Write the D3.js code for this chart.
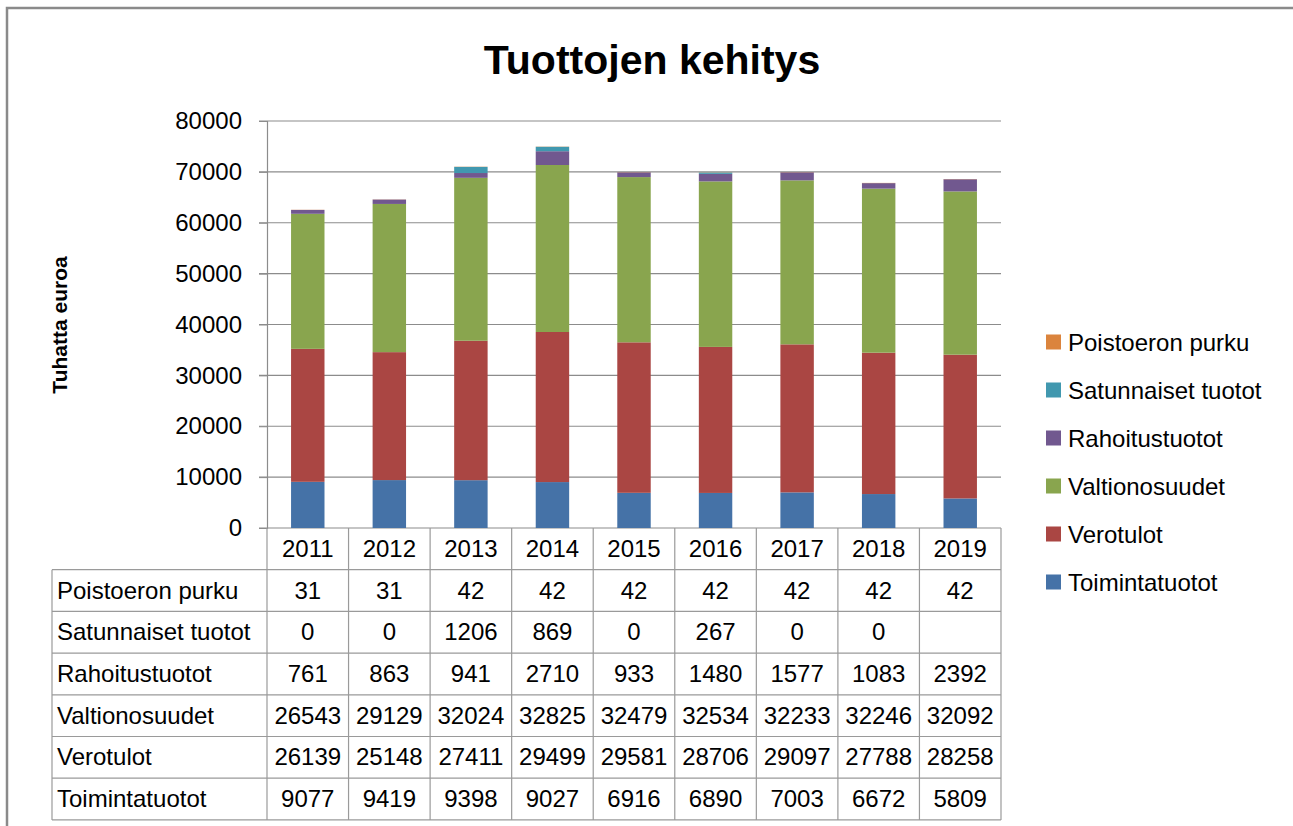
<!DOCTYPE html>
<html>
<head>
<meta charset="utf-8">
<script src="https://cdn.jsdelivr.net/npm/d3@7"></script>
<style>
  body { margin: 0; background: #fff; }
  text { font-family: "Liberation Sans", Arial, sans-serif; fill: #000; }
</style>
</head>
<body>
<div id="chart"></div>
<script>
// data
const years = ['2011', '2012', '2013', '2014', '2015', '2016', '2017', '2018', '2019'];
const seriesNames = ['Toimintatuotot', 'Verotulot', 'Valtionosuudet', 'Rahoitustuotot', 'Satunnaiset tuotot', 'Poistoeron purku'];
const toimintatuotot = [9077, 9419, 9398, 9027, 6916, 6890, 7003, 6672, 5809];
const verotulot = [26139, 25148, 27411, 29499, 29581, 28706, 29097, 27788, 28258];
const valtionosuudet = [26543, 29129, 32024, 32825, 32479, 32534, 32233, 32246, 32092];
const rahoitustuotot = [761, 863, 941, 2710, 933, 1480, 1577, 1083, 2392];
const satunnaiset = [0, 0, 1206, 869, 0, 267, 0, 0, null];
const poistoeron = [31, 31, 42, 42, 42, 42, 42, 42, 42];
const yTicks = [0, 10000, 20000, 30000, 40000, 50000, 60000, 70000, 80000];
const colors = ['#4572A7', '#AA4643', '#89A54E', '#71588F', '#4198AF', '#DB843D'];

const seriesValues = [toimintatuotot, verotulot, valtionosuudet, rahoitustuotot, satunnaiset, poistoeron];

const W = 1293, H = 826;
const plot = { left: 267, right: 1001, top: 121, bottom: 528 };
const rowH = 41.7;
const tableLeft = 52;
const fs = 24;

const svg = d3.select('#chart').append('svg')
  .attr('width', W).attr('height', H);

// outer frame (runs off the right and bottom edges)
svg.append('path')
  .attr('d', `M7,${H + 5}V8H${W + 5}`)
  .attr('fill', 'none').attr('stroke', '#8a8a8a').attr('stroke-width', 2.5);

// title
svg.append('text')
  .attr('x', 652).attr('y', 74)
  .attr('text-anchor', 'middle')
  .attr('font-size', 41).attr('font-weight', 'bold')
  .text('Tuottojen kehitys');

const x = d3.scaleBand().domain(years).range([plot.left, plot.right]).paddingInner(0).paddingOuter(0);
const y = d3.scaleLinear().domain([0, 80000]).range([plot.bottom, plot.top]);

// gridlines
svg.append('g')
  .selectAll('line').data(yTicks).join('line')
  .attr('x1', plot.left - 8).attr('x2', plot.right)
  .attr('y1', d => y(d)).attr('y2', d => y(d))
  .attr('stroke', '#8c8c8c').attr('stroke-width', 1.2);

// y axis
const yAxis = svg.append('g')
  .attr('transform', `translate(${plot.left},0)`)
  .call(d3.axisLeft(y).tickValues(yTicks).tickSize(8).tickPadding(17).tickFormat(d3.format('d')));
yAxis.select('.domain').attr('stroke', '#8c8c8c').attr('stroke-width', 1.2);
yAxis.selectAll('.tick line').attr('stroke', '#8c8c8c');
yAxis.selectAll('.tick text').attr('font-size', fs).attr('font-family', '"Liberation Sans", Arial, sans-serif').attr('fill', '#000');

svg.append('text')
  .attr('transform', 'translate(67,325) rotate(-90)')
  .attr('text-anchor', 'middle')
  .attr('font-size', 21).attr('font-weight', 'bold')
  .text('Tuhatta euroa');

// stacked bars
const rows = years.map((yr, i) => {
  const o = { year: yr };
  seriesNames.forEach((s, k) => { o[s] = seriesValues[k][i] || 0; });
  return o;
});
const stack = d3.stack().keys(seriesNames)(rows);
const barW = x.bandwidth() * 0.41;

svg.append('g')
  .selectAll('g').data(stack).join('g')
  .attr('fill', (d, i) => colors[i])
  .selectAll('rect').data(d => d).join('rect')
  .attr('x', d => x(d.data.year) + (x.bandwidth() - barW) / 2)
  .attr('width', barW)
  .attr('y', d => y(d[1]))
  .attr('height', d => y(d[0]) - y(d[1]));

// data table
const tbl = svg.append('g');
const tableTop = plot.bottom + rowH;
const nRows = seriesNames.length;
const tableBottom = tableTop + rowH * nRows;
const lineColor = '#9a9a9a';

// header years
tbl.selectAll('text.year').data(years).join('text')
  .attr('class', 'year')
  .attr('x', d => x(d) + x.bandwidth() / 2)
  .attr('y', plot.bottom + rowH / 2 + 8)
  .attr('text-anchor', 'middle')
  .attr('font-size', fs)
  .text(d => d);

// horizontal lines
const hLines = d3.range(nRows + 1).map(i => tableTop + i * rowH);
tbl.selectAll('line.h').data(hLines).join('line')
  .attr('x1', tableLeft).attr('x2', plot.right)
  .attr('y1', d => d).attr('y2', d => d)
  .attr('stroke', lineColor).attr('stroke-width', 1.2);

// vertical lines
const vLines = years.map(d => x(d)).concat([plot.right]);
tbl.selectAll('line.v').data(vLines).join('line')
  .attr('x1', d => d).attr('x2', d => d)
  .attr('y1', plot.bottom).attr('y2', tableBottom)
  .attr('stroke', lineColor).attr('stroke-width', 1.2);
tbl.append('line')
  .attr('x1', tableLeft).attr('x2', tableLeft)
  .attr('y1', tableTop).attr('y2', tableBottom)
  .attr('stroke', lineColor).attr('stroke-width', 1.2);

// rows, top one is the last series
const tableOrder = d3.range(nRows).reverse();
tableOrder.forEach((k, r) => {
  const cy = tableTop + r * rowH + rowH / 2 + 8;
  tbl.append('text')
    .attr('x', tableLeft + 5).attr('y', cy)
    .attr('font-size', fs)
    .text(seriesNames[k]);
  tbl.selectAll(null).data(seriesValues[k]).join('text')
    .attr('x', (d, i) => x(years[i]) + x.bandwidth() / 2)
    .attr('y', cy)
    .attr('text-anchor', 'middle')
    .attr('font-size', fs)
    .text(d => d == null ? '' : d);
});

// legend
const legend = svg.append('g');
tableOrder.forEach((k, r) => {
  const cy = 342 + r * 48;
  legend.append('rect')
    .attr('x', 1046).attr('y', cy - 7.5)
    .attr('width', 15).attr('height', 15)
    .attr('fill', colors[k]);
  legend.append('text')
    .attr('x', 1068).attr('y', cy + 8.5)
    .attr('font-size', fs)
    .text(seriesNames[k]);
});
</script>
</body>
</html>
